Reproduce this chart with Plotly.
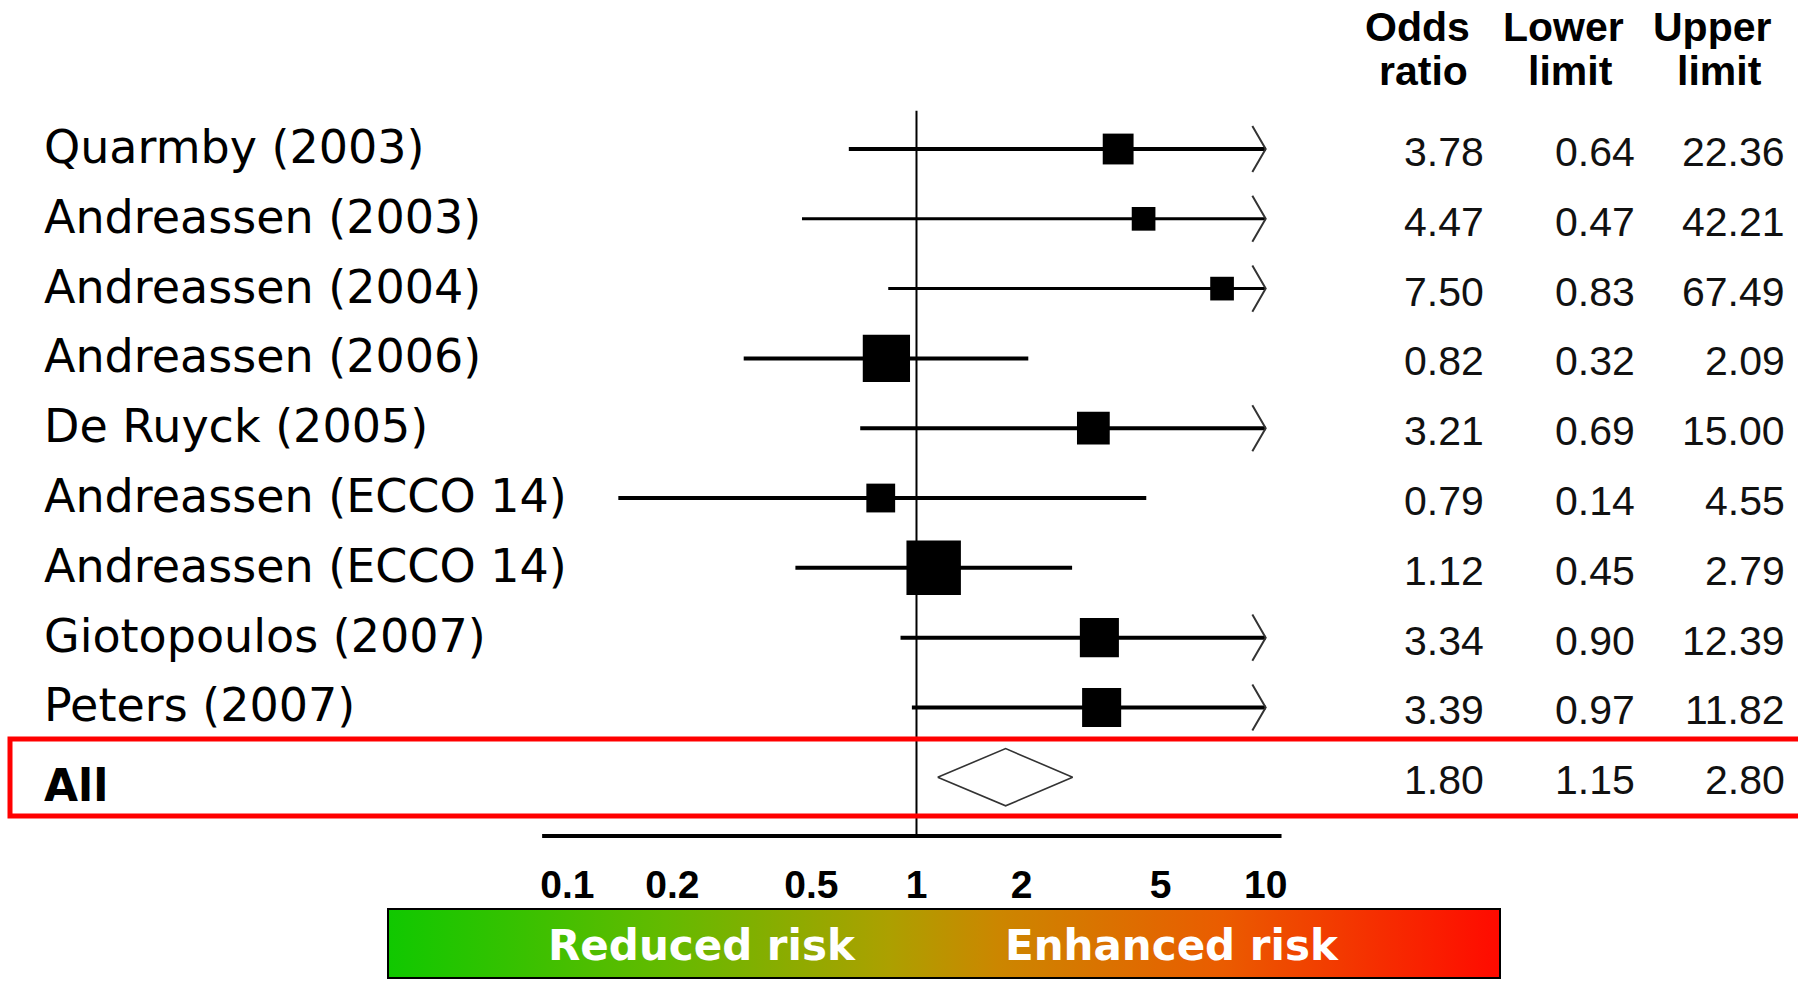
import math
import plotly.graph_objects as go

# ---------------- data ----------------
studies = ["Quarmby (2003)", "Andreassen (2003)", "Andreassen (2004)", "Andreassen (2006)",
           "De Ruyck (2005)", "Andreassen (ECCO 14)", "Andreassen (ECCO 14)",
           "Giotopoulos (2007)", "Peters (2007)"]
odds_ratio = [3.78, 4.47, 7.50, 0.82, 3.21, 0.79, 1.12, 3.34, 3.39]
lower_limit = [0.64, 0.47, 0.83, 0.32, 0.69, 0.14, 0.45, 0.90, 0.97]
upper_limit = [22.36, 42.21, 67.49, 2.09, 15.00, 4.55, 2.79, 12.39, 11.82]
weights = [7.8, 4.6, 4.6, 18.3, 8.8, 6.8, 24.3, 12.5, 12.5]   # relative study weight (%)

pooled_label = "All"
pooled_or = 1.80
pooled_lower = 1.15
pooled_upper = 2.80

tick_vals = [0.1, 0.2, 0.5, 1, 2, 5, 10]
tick_text = ["0.1", "0.2", "0.5", "1", "2", "5", "10"]
col_headers = [("Odds", "ratio"), ("Lower", "limit"), ("Upper", "limit")]
risk_labels = ["Reduced risk", "Enhanced risk"]

# ---------------- layout constants ----------------
W, H = 1798, 981
clip_max = 10
n = len(studies)
rows = list(range(n))
pooled_row = n

def px_x(p):
    return p / W

def px_y(p):
    return 1 - p / H

LABEL_FONT = "DejaVu Sans"
NUM_FONT = "Liberation Sans, Arial"

fig = go.Figure()

# reference line at OR = 1
fig.add_trace(go.Scatter(x=[1, 1], y=[-0.55, 9.842], mode="lines",
                         line=dict(color="black", width=2), hoverinfo="skip"))

# confidence intervals
for i in rows:
    hi = min(upper_limit[i], clip_max)
    lw = 3 if weights[i] < 6 else 4
    fig.add_trace(go.Scatter(x=[lower_limit[i], hi], y=[i, i], mode="lines",
                             line=dict(color="black", width=lw), hoverinfo="skip"))
    if upper_limit[i] > clip_max:
        f = 1.092
        fig.add_trace(go.Scatter(x=[clip_max / f, clip_max, clip_max / f],
                                 y=[i - 0.33, i, i + 0.33], mode="lines",
                                 line=dict(color="#333", width=2), hoverinfo="skip"))

# point estimates (box size ~ weight)
sizes = [math.sqrt(w * 122.0) for w in weights]
fig.add_trace(go.Scatter(x=odds_ratio, y=rows, mode="markers",
                         marker=dict(symbol="square", size=sizes, color="black", opacity=1,
                                     line=dict(width=0)),
                         hoverinfo="skip"))

# pooled diamond
h = 0.41
fig.add_trace(go.Scatter(x=[pooled_lower, pooled_or, pooled_upper, pooled_or, pooled_lower],
                         y=[pooled_row, pooled_row - h, pooled_row, pooled_row + h, pooled_row],
                         mode="lines", line=dict(color="#333", width=1.6), hoverinfo="skip"))

# gradient bar (second subplot)
fig.add_trace(go.Scatter(x=[0, 1, 1, 0, 0], y=[0, 0, 1, 1, 0], mode="lines",
                         fill="toself", xaxis="x2", yaxis="y2",
                         line=dict(width=0, color="rgba(0,0,0,0)"),
                         fillgradient=dict(type="horizontal",
                                           colorscale=[[0, "rgb(16,200,0)"],
                                                       [0.25, "rgb(100,186,0)"],
                                                       [0.45, "rgb(172,160,0)"],
                                                       [0.55, "rgb(204,134,0)"],
                                                       [0.75, "rgb(234,92,0)"],
                                                       [1, "rgb(255,10,0)"]]),
                         hoverinfo="skip"))

annotations = []
# study labels and numbers
num_right = [1486, 1637, 1787]
for i in rows:
    annotations.append(dict(x=px_x(42), xref="paper", y=i, yref="y", text=studies[i],
                            xanchor="left", yanchor="middle", showarrow=False, yshift=2,
                            font=dict(family=LABEL_FONT, size=46, color="black")))
    for c, vals in enumerate([odds_ratio, lower_limit, upper_limit]):
        annotations.append(dict(x=px_x(num_right[c]), xref="paper", y=i, yref="y",
                                text=f"{vals[i]:.2f}", xanchor="right", yanchor="middle",
                                yshift=-3, showarrow=False,
                                font=dict(family=NUM_FONT, size=41, color="#111")))

annotations.append(dict(x=px_x(42), xref="paper", y=pooled_row, yref="y",
                        text=f"<b>{pooled_label}</b>", xanchor="left", yanchor="middle",
                        yshift=-8, showarrow=False,
                        font=dict(family=LABEL_FONT, size=44, color="black")))
for c, v in enumerate([pooled_or, pooled_lower, pooled_upper]):
    annotations.append(dict(x=px_x(num_right[c]), xref="paper", y=pooled_row, yref="y",
                            text=f"{v:.2f}", xanchor="right", yanchor="middle",
                            yshift=-3, showarrow=False,
                            font=dict(family=NUM_FONT, size=41, color="#111")))

# column headers
hdr_x = [(1417, 1423), (1563, 1570), (1712, 1719)]
for (top, bottom), (xt, xb) in zip(col_headers, hdr_x):
    annotations.append(dict(x=px_x(xt), xref="paper", y=px_y(27), yref="paper",
                            text=f"<b>{top}</b>", xanchor="center", yanchor="middle",
                            showarrow=False, font=dict(family=NUM_FONT, size=41, color="black")))
    annotations.append(dict(x=px_x(xb), xref="paper", y=px_y(71), yref="paper",
                            text=f"<b>{bottom}</b>", xanchor="center", yanchor="middle",
                            showarrow=False, font=dict(family=NUM_FONT, size=41, color="black")))

# risk labels on gradient bar
for txt, xc in zip(risk_labels, [702, 1172]):
    annotations.append(dict(x=px_x(xc), xref="paper", y=px_y(945), yref="paper",
                            text=f"<b>{txt}</b>", xanchor="center", yanchor="middle",
                            showarrow=False, font=dict(family=LABEL_FONT, size=42, color="white")))

shapes = [
    # x axis line
    dict(type="line", xref="x", yref="paper", x0=0.0847, x1=11.1,
         y0=145 / H, y1=145 / H, line=dict(color="black", width=4)),
    # red box around pooled row
    dict(type="rect", xref="paper", yref="paper", x0=px_x(10), x1=1.02,
         y0=px_y(816), y1=px_y(739), line=dict(color="red", width=5)),
    # gradient bar border
    dict(type="rect", xref="paper", yref="paper", x0=px_x(388), x1=px_x(1500),
         y0=px_y(978), y1=px_y(909), line=dict(color="black", width=2)),
]

fig.update_layout(
    width=W, height=H, margin=dict(l=0, r=0, t=0, b=0),
    paper_bgcolor="white", plot_bgcolor="white", showlegend=False,
    xaxis=dict(type="log", range=[-2.6246, 2.5244], domain=[0, 1], showgrid=False,
               zeroline=False, showline=False, ticks="", tickvals=tick_vals,
               ticktext=[f"<b>{t}</b>" for t in tick_text], ticklabelstandoff=22,
               tickfont=dict(family=NUM_FONT, size=39, color="black"), fixedrange=True),
    yaxis=dict(range=[9.842, -2.135], domain=[145 / H, 1], showgrid=False, zeroline=False,
               showline=False, showticklabels=False, ticks="", fixedrange=True),
    xaxis2=dict(range=[0, 1], domain=[388 / W, 1500 / W], visible=False, anchor="y2"),
    yaxis2=dict(range=[0, 1], domain=[3 / H, 72 / H], visible=False, anchor="x2"),
    annotations=annotations, shapes=shapes,
)

fig.write_html("out.html")
